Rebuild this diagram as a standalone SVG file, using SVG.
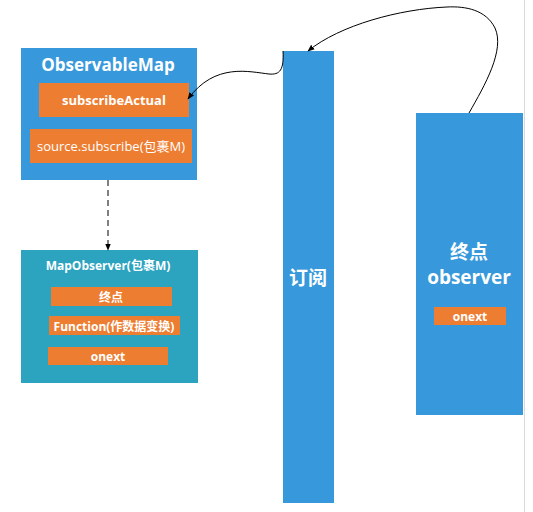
<svg xmlns="http://www.w3.org/2000/svg" width="533" height="512" viewBox="0 0 533 512">
<style>
.blue{fill:#3799DB}
.teal{fill:#2CA3BF}
.orange{fill:#ED7D31}
text{font-family:"Open Sans","Noto Sans CJK SC",sans-serif;fill:#fff;text-anchor:middle;dominant-baseline:central}
.b{font-weight:bold}
.conn{fill:none;stroke:#000;stroke-width:1}
</style>
<defs>
<marker id="arr" viewBox="0 0 10 10" refX="9" refY="5" markerWidth="7" markerHeight="7" orient="auto">
<path d="M0,1 L10,5 L0,9 z" fill="#000"/>
</marker>
</defs>
<rect width="533" height="512" fill="#fff"/>
<line x1="524.5" y1="0" x2="524.5" y2="512" stroke="#d9d9d9" stroke-width="1"/>
<g id="observableMap">
<rect class="blue" x="21" y="48" width="176" height="132"/>
<text class="b" x="108" y="64" font-size="17">ObservableMap</text>
<rect class="orange" x="39" y="83" width="150" height="34"/>
<text class="b" x="114" y="100" font-size="13">subscribeActual</text>
<rect class="orange" x="30" y="129" width="162" height="34"/>
<text x="111" y="146" font-size="13">source.subscribe(包裹M)</text>
</g>
<g id="mapObserver">
<rect class="teal" x="21" y="250" width="177" height="133"/>
<text class="b" x="108" y="265" font-size="12">MapObserver(包裹M)</text>
<rect class="orange" x="51" y="287" width="121" height="19"/>
<text class="b" x="111" y="297" font-size="12">终点</text>
<rect class="orange" x="49" y="316" width="131" height="19"/>
<text class="b" x="114" y="326" font-size="12">Function(作数据变换)</text>
<rect class="orange" x="48" y="347" width="120" height="18"/>
<text class="b" x="108" y="356" font-size="12">onext</text>
</g>
<g id="subscribe">
<rect class="blue" x="283" y="51" width="51" height="452"/>
<text class="b" x="308" y="278" font-size="19">订阅</text>
</g>
<g id="observer">
<rect class="blue" x="416" y="113" width="107" height="302"/>
<text class="b" x="469" y="252" font-size="19">终点</text>
<text class="b" x="469" y="277" font-size="19">observer</text>
<rect class="orange" x="434" y="307" width="72" height="18"/>
<text class="b" x="470" y="316" font-size="12">onext</text>
</g>
<g id="connectors">
<line class="conn" x1="108" y1="180" x2="108" y2="250" stroke-dasharray="6,4" marker-end="url(#arr)"/>
<path class="conn" d="M469,113 C485,85 505,50 495,28 C486,10 466,6 447,7 C400,9 340,25 308,51" marker-end="url(#arr)"/>
<path class="conn" d="M283,51 C284,70 280,75 269,74 C250,72 215,62 188,99" marker-end="url(#arr)"/>
</g>
</svg>
